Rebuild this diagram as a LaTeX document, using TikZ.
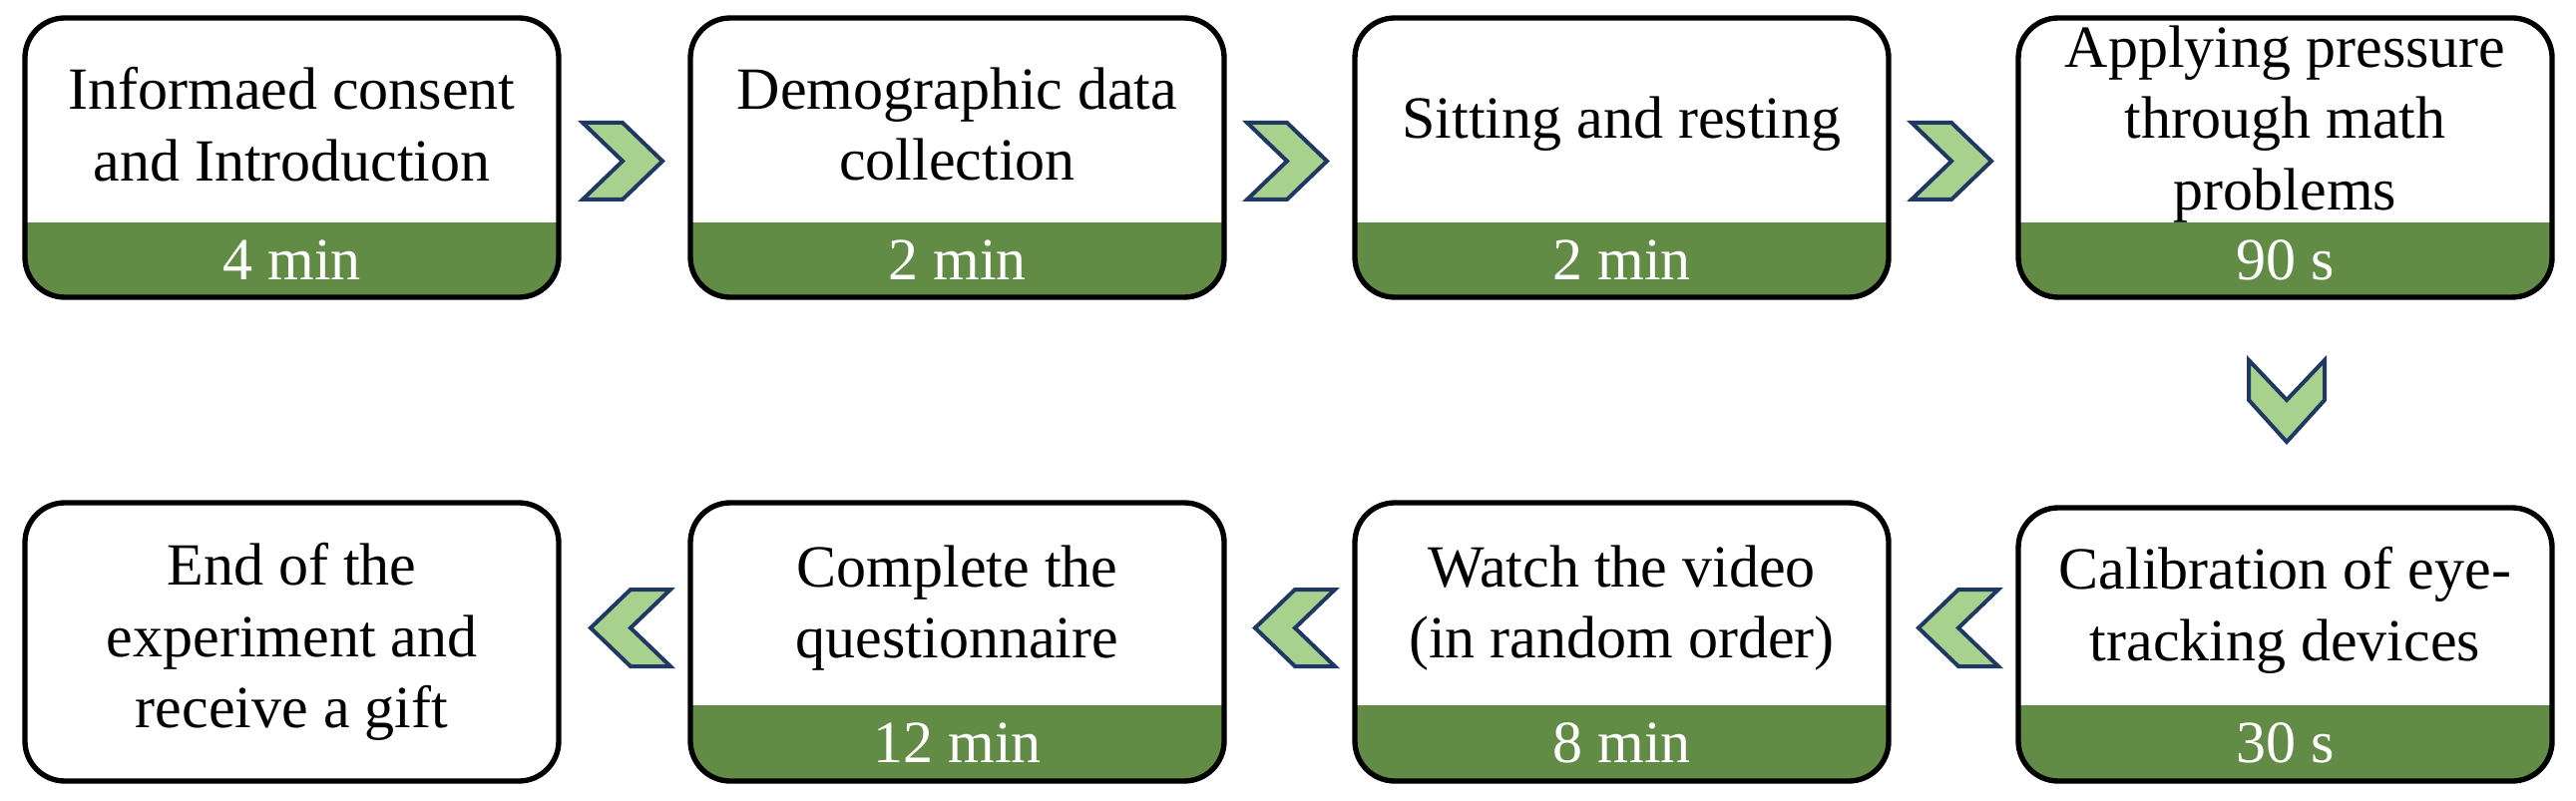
\documentclass[tikz,border=0pt]{standalone}
\usepackage{fontspec}
\setmainfont{Liberation Serif}
\definecolor{band}{RGB}{98,139,69}
\definecolor{chevfill}{RGB}{169,209,142}
\definecolor{chevline}{RGB}{31,56,100}
\tikzset{
  box/.style={draw=black,line width=1.6pt,rounded corners=12pt},
  txt/.style={font=\fontsize{18}{21.5}\selectfont,align=center},
  btxt/.style={font=\fontsize{18}{21.5}\selectfont,text=white},
  chev/.style={fill=chevfill,draw=chevline,line width=1.2pt,line join=miter},
}
\newcommand\stepbox[7]{% name, x, ytop, ybottom, yband, text, band text
  \begin{scope}
    \clip[rounded corners=12pt] (#2,#3) rectangle (#2+535,#4);
    \ifx&#7&\else\fill[band] (#2,#5) rectangle (#2+535,#4);\fi
  \end{scope}
  \draw[box] (#2,#3) rectangle (#2+535,#4);
  \ifx&#7&
    \node[txt] (#1) at (#2+267.5,{(#3+#4)/2}) {#6};
  \else
    \node[txt] (#1) at (#2+267.5,{(#3+#5)/2+4}) {#6};
    \node[btxt] (#1b) at (#2+267.5,{(#5+#4)/2}) {#7};
  \fi
}
\newcommand\chevR[2]{\draw[chev] (#1,#2) -- ++(40,0) -- ++(40,38.5) -- ++(-40,38.5) -- ++(-40,0) -- ++(40,-38.5) -- cycle;}
\newcommand\chevL[2]{\draw[chev] (#1,#2) -- ++(-40,0) -- ++(-40,38.5) -- ++(40,38.5) -- ++(40,0) -- ++(-40,-38.5) -- cycle;}
\newcommand\chevD[2]{\draw[chev] (#1,#2) -- ++(0,40) -- ++(38,42) -- ++(38,-42) -- ++(0,-40) -- ++(-38,40) -- cycle;}
\begin{document}
\begin{tikzpicture}[x=0.3pt,y=-0.3pt]
\useasboundingbox (0,0) rectangle (2582,803);
\stepbox{a}{25}{18}{298}{223}{Informaed consent\\and Introduction}{4 min}
\stepbox{b}{692}{18}{298}{223}{Demographic data\\collection}{2 min}
\stepbox{c}{1358}{18}{298}{223}{Sitting and resting}{2 min}
\stepbox{d}{2023}{18}{298}{223}{Applying pressure\\through math\\problems}{90 s}
\stepbox{e}{2023}{509}{783}{707}{Calibration of eye-\\tracking devices}{30 s}
\stepbox{f}{1358}{504}{783}{707}{Watch the video\\(in random order)}{8 min}
\stepbox{g}{692}{504}{783}{707}{Complete the\\questionnaire}{12 min}
\stepbox{h}{25}{504}{783}{707}{End of the\\experiment and\\receive a gift}{}
\chevR{584}{123}
\chevR{1250}{123}
\chevR{1916}{123}
\chevD{2254}{361}
\chevL{2003}{591}
\chevL{1338}{591}
\chevL{672}{591}
\end{tikzpicture}
\end{document}
